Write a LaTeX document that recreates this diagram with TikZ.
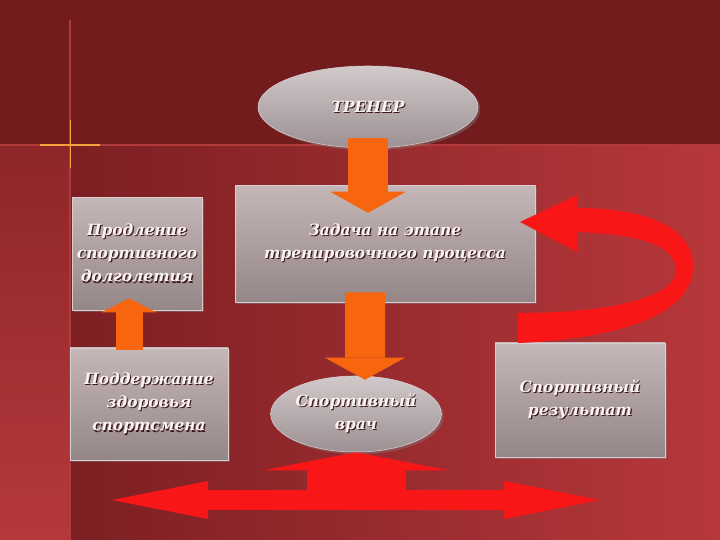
\documentclass[tikz,border=0pt]{standalone}
\usepackage{fontspec}
\setmainfont{DejaVu Serif}
\usetikzlibrary{shapes.geometric,arrows.meta,shadows}

\definecolor{bgtop}{HTML}{731C1E}
\definecolor{bgleft}{HTML}{7C1F23}
\definecolor{bgright}{HTML}{B7383B}
\definecolor{stripTop}{HTML}{8E2629}
\definecolor{stripBot}{HTML}{B5393C}
\definecolor{linelight}{HTML}{B23A3A}
\definecolor{glow}{HTML}{F5A23A}
\definecolor{boxtop}{HTML}{C5B6B7}
\definecolor{boxbot}{HTML}{958788}
\definecolor{boxedge}{HTML}{D9CFCF}
\definecolor{ovaltop}{HTML}{D2C9CA}
\definecolor{ovalbot}{HTML}{9C9092}
\definecolor{txtwhite}{HTML}{FBF4F4}
\definecolor{txtshadow}{HTML}{3E1A1C}
\definecolor{arrorange}{HTML}{F7650F}
\definecolor{arrred}{HTML}{F81616}

% white text with a dark offset shadow
\newcommand{\emb}[1]{\leavevmode\rlap{\kern0.8pt\raisebox{-0.8pt}{\textcolor{txtshadow}{#1}}}#1}

\begin{document}
\begin{tikzpicture}[
  label/.style={text=txtwhite, font=\bfseries\itshape\fontsize{11}{16.5}\selectfont, align=center, inner sep=0pt},
  box/.style={label, rectangle, top color=boxtop, bottom color=boxbot, draw=boxedge, line width=0.4pt,
    drop shadow={shadow xshift=1.6pt, shadow yshift=-1.6pt, opacity=0.45}},
  oval/.style={label, ellipse, top color=ovaltop, bottom color=ovalbot, draw=boxedge, line width=0.4pt,
    drop shadow={shadow xshift=1.6pt, shadow yshift=-1.6pt, opacity=0.45}},
  orangearrow/.style={draw=arrorange, line width=1cm, -{Triangle[width=1.9cm,length=0.53cm,line width=0pt]}},
  redarrow/.style={draw=arrred},
]
\useasboundingbox (0,0) rectangle (18,13.5);

% background
\fill[bgtop] (0,9.875) rectangle (18,13.5);
\shade[left color=bgleft, right color=bgright] (1.75,0) rectangle (18,9.875);
\shade[top color=stripTop, bottom color=stripBot] (0,0) rectangle (1.75,9.875);
\draw[linelight, line width=1.2pt] (0,9.875) -- (18,9.875);
\draw[linelight, line width=0.8pt] (1.75,13.0) -- (1.75,0);
\draw[glow, line width=0.9pt] (1.0,9.875) -- (2.5,9.875);
\draw[glow, line width=0.7pt] (1.75,9.3) -- (1.75,10.5);

% blocks
\node[oval, minimum width=5.5cm, minimum height=2.05cm] (trainer) at (9.2,10.825) {\emb{ТРЕНЕР}};
\node[box, minimum width=7.5cm, minimum height=2.925cm] (task) at (9.625,7.41)
  {\emb{Задача на этапе}\\\emb{тренировочного процесса}};
\node[box, minimum width=3.25cm, minimum height=2.825cm] (prolong) at (3.425,7.16)
  {\emb{Продление}\\\emb{спортивного}\\\emb{долголетия}};
\node[box, minimum width=3.95cm, minimum height=2.8cm] (support) at (3.725,3.4)
  {\emb{Поддержание}\\\emb{здоровья}\\\emb{спортсмена}};
\node[oval, minimum width=4.1cm, minimum height=1.9cm] (doctor) at (8.9,3.15)
  {\emb{Спортивный}\\\emb{врач}};
\node[box, minimum width=4.25cm, minimum height=2.85cm] (result) at (14.5,3.5)
  {\emb{Спортивный}\\\emb{результат}};

% orange arrows
\draw[orangearrow] ([yshift=0.25cm]trainer.south) -- ([yshift=-0.7cm]trainer.south |- task.north);
\draw[orangearrow, -{Triangle[width=2cm,length=0.55cm,line width=0pt]}]
  ([xshift=-0.5cm,yshift=0.25cm]task.south) -- ([xshift=0.225cm,yshift=-0.1cm]doctor.north);
\draw[orangearrow, line width=0.675cm, -{Triangle[width=1.375cm,length=0.35cm,line width=0pt]}]
  ([xshift=-0.5cm,yshift=-0.05cm]support.north) -- ([xshift=-0.2cm,yshift=0.3cm]prolong.south);

% red feedback ribbon from result to task
\fill[arrred] (12.95,4.925) .. controls (15.0,5.0) and (17.4,5.5) .. (17.33,6.9)
  .. controls (17.25,7.9) and (16.0,8.3) .. (14.425,8.3)
  -- (14.425,8.625) -- (13.0,7.95) -- (14.425,7.2) -- (14.425,7.7)
  .. controls (15.7,7.65) and (16.9,7.45) .. (16.9,6.75)
  .. controls (16.9,6.0) and (15.0,5.675) .. (12.95,5.675) -- cycle;

% red arrows at the bottom
\coordinate (lefttip) at (2.8,1.0);
\coordinate (righttip) at (15.0,1.0);
\draw[redarrow, line width=0.5cm,
  {Triangle[width=0.95cm,length=2.4cm,line width=0pt]}-{Triangle[width=0.95cm,length=2.4cm,line width=0pt]}]
  (lefttip) -- (righttip);
\draw[redarrow, line width=2.475cm, -{Triangle[width=4.625cm,length=0.45cm,line width=0pt]}]
  (doctor.south |- lefttip) -- (doctor.south);
\end{tikzpicture}
\end{document}
